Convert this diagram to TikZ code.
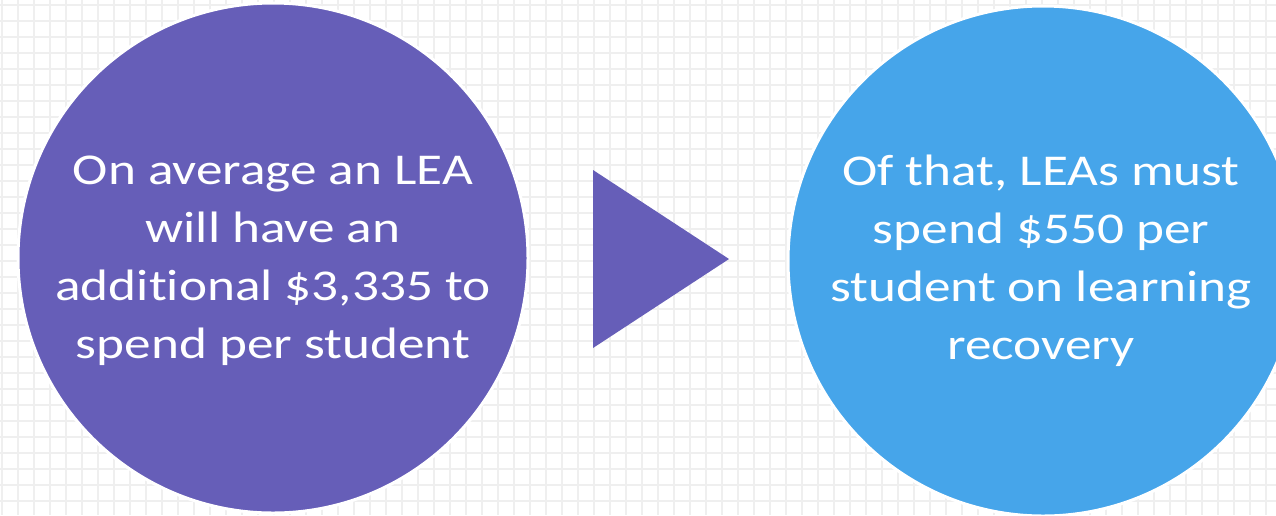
\documentclass[tikz,border=0pt]{standalone}
\usepackage{fontspec}
\setmainfont{Carlito}[FakeStretch=1.21,Ligatures={NoCommon,NoRare,NoContextual}]
\definecolor{gridc}{HTML}{EFEFEF}
\definecolor{purp}{HTML}{665EB8}
\definecolor{sky}{HTML}{46A5EA}
\begin{document}
\begin{tikzpicture}[x=1pt,y=-1pt,
  bubble/.style={circle,draw=white,line width=3pt,minimum size=510pt,inner sep=0pt},
  bubtext/.style={text=white,align=center,font=\fontsize{44}{58}\selectfont}]
\useasboundingbox (0,0) rectangle (1276,515);
\fill[white] (0,0) rectangle (1276,515);
\begin{scope}
\clip (0,0) rectangle (1276,515);
\foreach \i in {0,...,80} {\draw[gridc,line width=2pt] (1.7+16*\i,0) -- (1.7+16*\i,515);}
\foreach \j in {0,...,32} {\draw[gridc,line width=2pt] (0,5+16*\j) -- (1276,5+16*\j);}
\node[bubble,fill=purp] (left) at (273,258) {};
\node[bubble,fill=sky] (right) at (1043,261) {};
\end{scope}
\fill[purp] (593,170) coordinate (ta) -- (729,259) coordinate (tb) -- (593,348) coordinate (tc) -- cycle;
\node[bubtext] (lt) at (273,261) {On average an LEA\\will have an\\additional \$3,335 to\\spend per student};
\node[bubtext] (rt) at (1041,261) {Of that, LEAs must\\spend \$550 per\\student on learning\\recovery};
\end{tikzpicture}
\end{document}
